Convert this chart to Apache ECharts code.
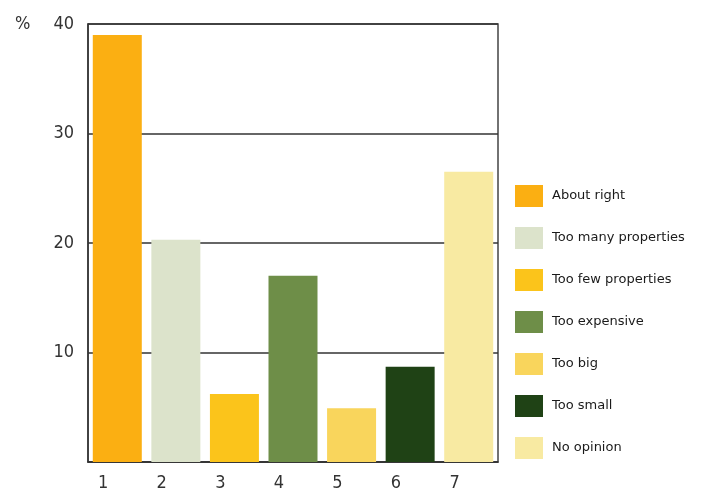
<!DOCTYPE html>
<html>
<head>
<meta charset="utf-8">
<script src="https://cdn.jsdelivr.net/npm/echarts@6/dist/echarts.min.js"></script>
<style>
  html, body { margin: 0; padding: 0; background: #ffffff; }
  #chart { width: 702px; height: 495px; }
</style>
</head>
<body>
<div id="chart"></div>
<script>
// Survey answers, one bar per answer
const categories = ['1', '2', '3', '4', '5', '6', '7'];
const answers = ['About right', 'Too many properties', 'Too few properties', 'Too expensive', 'Too big', 'Too small', 'No opinion'];
const shares = [39, 20.3, 6.2, 17, 4.9, 8.7, 26.5];
const colors = ['#FBAF12', '#DCE3CB', '#FBC41B', '#6E8E48', '#F9D55C', '#1F4215', '#F8EAA2'];
const yTicks = [10, 20, 30, 40];

const fontFamily = '"DejaVu Sans Condensed", "DejaVu Sans", sans-serif';

// One series per answer so each gets its own legend entry; stacking keeps bars centred
const series = answers.map((name, i) => ({
  name: name,
  type: 'bar',
  stack: 'all',
  barWidth: 49,
  itemStyle: { color: colors[i] },
  data: categories.map((c, j) => (j === i ? shares[i] : '-'))
}));

const chart = echarts.init(document.getElementById('chart'), null, { renderer: 'canvas' });
chart.setOption({
  animation: false,
  backgroundColor: '#ffffff',
  grid: {
    left: 88, right: 204, top: 24, bottom: 33,
    show: true, borderColor: '#444', borderWidth: 1.5, backgroundColor: 'transparent'
  },
  legend: {
    orient: 'vertical',
    left: 510, top: 180,
    itemWidth: 28, itemHeight: 22, itemGap: 20,
    icon: 'rect',
    textStyle: {
      fontFamily: '"DejaVu Sans", sans-serif', fontSize: 13, color: '#1a1a1a',
      padding: [0, 0, 0, 4]
    },
    selectedMode: false
  },
  xAxis: {
    type: 'category',
    data: categories,
    axisLine: { show: true, lineStyle: { color: '#333', width: 1.5 } },
    axisTick: { show: false },
    axisLabel: {
      fontFamily: fontFamily, fontSize: 18, color: '#333',
      align: 'right', padding: [0, 9, 0, 0], margin: 12
    }
  },
  yAxis: {
    type: 'value',
    min: 0, max: 40, interval: 10,
    axisLine: { show: true, lineStyle: { color: '#333', width: 1.5 } },
    axisTick: { show: false },
    splitLine: { show: true, lineStyle: { color: '#333', width: 1.5 } },
    axisLabel: {
      fontFamily: fontFamily, fontSize: 18, color: '#333', margin: 14,
      formatter: v => (yTicks.includes(v) ? String(v) : '')
    }
  },
  graphic: [{
    type: 'text',
    left: 15, top: 15,
    style: { text: '%', fontFamily: fontFamily, fontSize: 18, fill: '#333' }
  }],
  series: series
});
</script>
</body>
</html>
